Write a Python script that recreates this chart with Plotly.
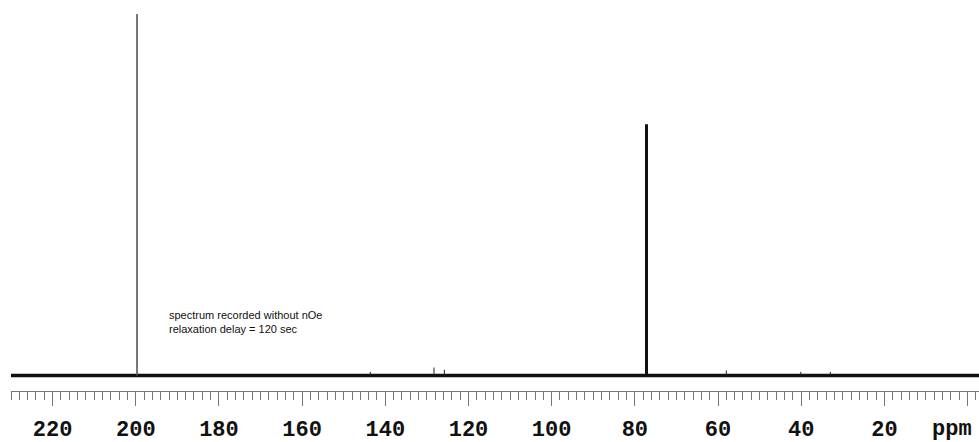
import plotly.graph_objects as go

# ---- data ----
axis_range_ppm = [230, -2.75]
tick_ppm = [220, 200, 180, 160, 140, 120, 100, 80, 60, 40, 20, 0]
tick_text = ["220", "200", "180", "160", "140", "120", "100", "80", "60", "40", "20", ""]

# main peaks (ppm, relative intensity)
big_peak_ppm = [199.7]
big_peak_height = [100.0]
solvent_peak_ppm = [77.2]
solvent_peak_height = [69.5]
# tiny features visible in the baseline
small_peak_ppm = [143.6, 128.3, 125.8, 58.0, 40.1, 33.0]
small_peak_height = [1.0, 2.2, 1.6, 1.4, 1.0, 1.0]

note_lines = ["spectrum recorded without nOe", "relaxation delay = 120 sec"]

# ---- build traces ----
def sticks(ppms, heights):
    xs, ys = [], []
    for p, h in zip(ppms, heights):
        xs += [p, p, None]
        ys += [0, h, None]
    return xs, ys

fig = go.Figure()

# baseline
fig.add_trace(go.Scatter(x=[axis_range_ppm[0], axis_range_ppm[1]], y=[0, 0],
                         mode="lines", line=dict(color="#111", width=3.6),
                         hoverinfo="skip", showlegend=False))
sx, sy = sticks(small_peak_ppm, small_peak_height)
fig.add_trace(go.Scatter(x=sx, y=sy, mode="lines", line=dict(color="#222", width=1),
                         showlegend=False))
bx, by = sticks(big_peak_ppm, big_peak_height)
fig.add_trace(go.Scatter(x=bx, y=by, mode="lines", line=dict(color="#555", width=1.6),
                         showlegend=False))
cx, cy = sticks(solvent_peak_ppm, solvent_peak_height)
fig.add_trace(go.Scatter(x=cx, y=cy, mode="lines", line=dict(color="#111", width=3),
                         showlegend=False))

mono = "Courier New, Liberation Mono, monospace"

fig.update_layout(
    width=979, height=442,
    margin=dict(l=11, r=0, t=0, b=51, autoexpand=False),
    plot_bgcolor="white", paper_bgcolor="white",
    xaxis=dict(
        range=axis_range_ppm, automargin=False,
        showgrid=False, zeroline=False,
        showline=True, linecolor="#777", linewidth=1,
        ticks="outside", ticklen=14, tickwidth=1, tickcolor="#777",
        tickmode="array", tickvals=tick_ppm, ticktext=tick_text,
        tickfont=dict(family=mono, size=22, color="#111", weight="bold"),
        ticklabelstandoff=4,
        minor=dict(tickmode="linear", tick0=0, dtick=2, ticklen=8,
                   tickcolor="#777", tickwidth=1, ticks="outside", showgrid=False),
    ),
    yaxis=dict(range=[-4.29, 103.87], visible=False, showgrid=False, zeroline=False,
               automargin=False),
    annotations=[
        dict(x=192.5, y=14.7, xref="x", yref="y", xanchor="left", yanchor="middle",
             text="<br>".join(note_lines), showarrow=False, align="left",
             font=dict(family="Liberation Sans, Arial", size=11, color="#111")),
        dict(x=3.75, y=-0.0997, xref="x", yref="paper", xanchor="center", yanchor="middle",
             text="ppm", showarrow=False,
             font=dict(family=mono, size=22, color="#111", weight="bold")),
    ],
)

fig.write_html("out.html", config={"displayModeBar": False},
               post_script="document.body.style.margin='0';document.body.style.padding='0';")
